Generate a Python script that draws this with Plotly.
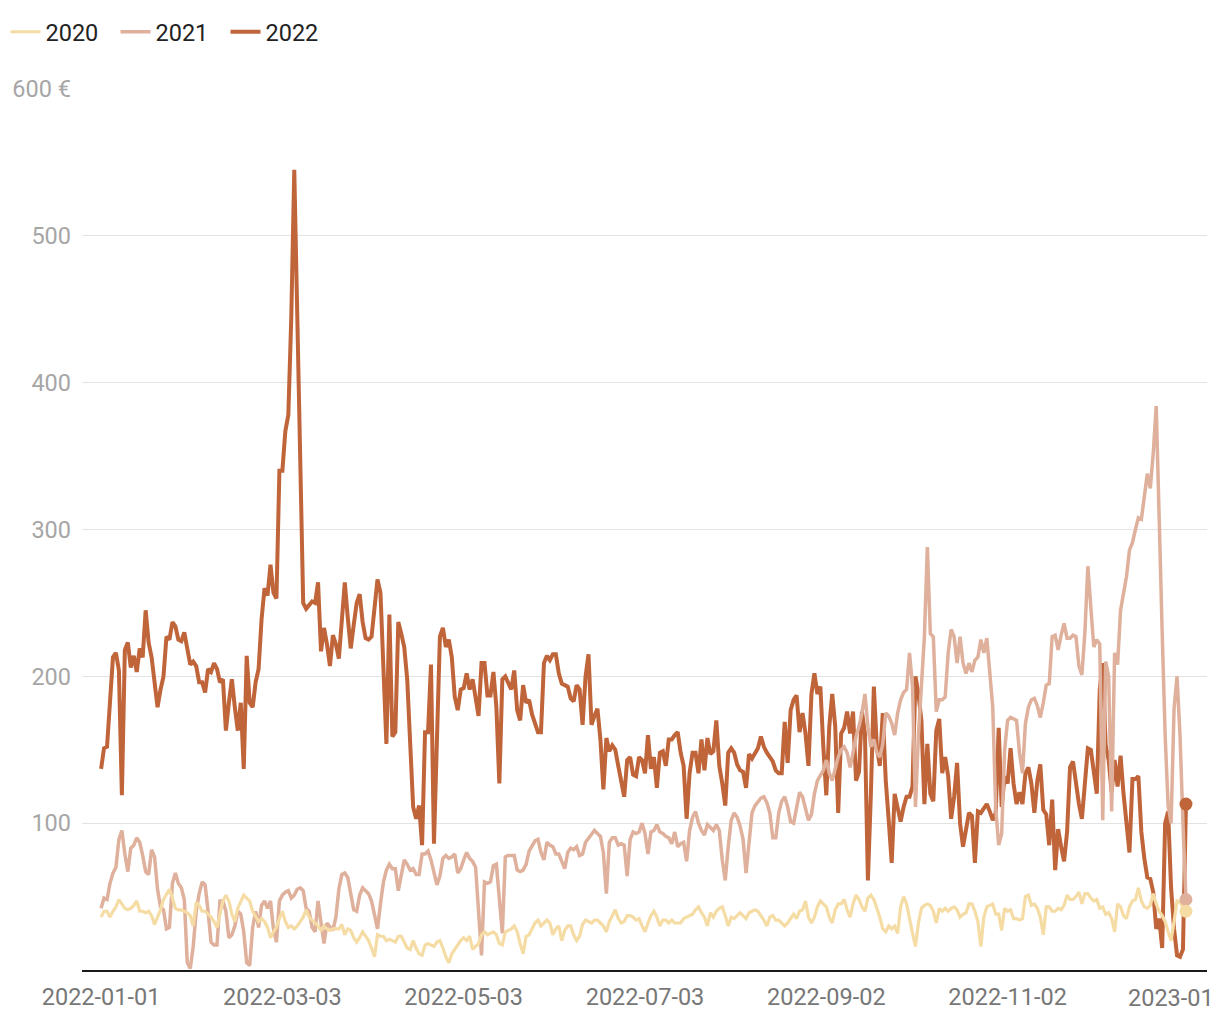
import pandas as pd
import plotly.graph_objects as go

dates = pd.date_range("2022-01-01", "2023-01-01", freq="D")

series_names = ["2020", "2021", "2022"]

values_2020 = [
    36, 40, 40, 36, 40, 43, 48, 45, 42, 41, 42, 44, 47, 40, 40, 39, 40, 37, 31, 36, 41, 48, 52, 55, 49, 42, 41, 41, 40, 39, 37, 30,
    46, 44, 40, 40, 38, 36, 33, 29, 38, 47, 51, 47, 38, 33, 42, 47, 51, 49, 47, 40, 36, 33, 35, 33, 29, 22, 26, 29, 35, 40, 33, 29, 30, 28,
    30, 33, 36, 41, 36, 34, 32, 30, 27, 30, 28, 27, 28, 28, 28, 31, 24, 28, 27, 22, 19, 22, 26, 23, 20, 15, 9, 24, 23, 23, 20, 21, 20,
    19, 23, 23, 19, 15, 14, 20, 15, 11, 10, 17, 18, 17, 16, 19, 20, 15, 9, 5, 11, 14, 17, 20, 22, 20, 23, 14, 16, 18, 24, 26, 24, 25, 26,
    24, 18, 17, 26, 27, 28, 30, 26, 18, 11, 23, 24, 28, 32, 34, 30, 32, 34, 32, 24, 28, 30, 20, 27, 30, 30, 24, 20, 23, 31, 34, 33, 32, 34,
    34, 32, 30, 26, 33, 37, 41, 35, 32, 33, 37, 37, 36, 34, 35, 30, 26, 32, 37, 40, 36, 30, 34, 34, 32, 34, 32, 32, 32, 35, 36, 37, 38,
    41, 43, 39, 36, 30, 39, 36, 40, 42, 43, 37, 30, 36, 35, 37, 39, 37, 35, 39, 40, 41, 40, 37, 34, 30, 36, 37, 34, 34, 32, 30, 32, 35, 38,
    35, 40, 41, 47, 36, 32, 36, 43, 47, 45, 43, 36, 32, 41, 45, 45, 48, 41, 36, 45, 51, 48, 43, 40, 49, 51, 48, 42, 36, 28, 26, 30, 28, 30,
    25, 43, 50, 45, 34, 25, 16, 32, 42, 44, 45, 44, 40, 32, 42, 40, 42, 40, 42, 43, 41, 36, 38, 39, 45, 45, 40, 33, 16, 36, 43, 44, 45,
    38, 38, 27, 42, 40, 41, 35, 35, 34, 35, 50, 51, 44, 45, 42, 36, 24, 43, 43, 40, 40, 42, 41, 44, 51, 48, 48, 50, 53, 45, 52, 52, 49, 47,
    48, 42, 43, 38, 39, 35, 26, 45, 43, 37, 35, 43, 47, 48, 56, 47, 43, 42, 44, 52, 45, 40, 37, 33, 26, 20, 33, 47, 46, 43, 40,
]

values_2021 = [
    42, 49, 48, 59, 66, 70, 89, 95, 79, 67, 83, 85, 90, 87, 78, 67, 65, 82, 77, 55, 43, 41, 28, 29, 59, 66, 59, 56, 48, 5, 1, 16,
    40, 52, 60, 58, 40, 19, 17, 17, 47, 47, 40, 22, 24, 30, 40, 38, 26, 5, 3, 29, 40, 29, 44, 47, 42, 47, 28, 19, 47, 51, 53, 54, 49, 51,
    55, 56, 54, 42, 40, 29, 26, 47, 32, 18, 32, 29, 27, 36, 55, 65, 66, 63, 52, 41, 40, 51, 56, 54, 52, 47, 38, 28, 45, 60, 68, 72, 69,
    69, 54, 66, 75, 72, 68, 69, 65, 65, 79, 79, 81, 75, 66, 58, 64, 76, 78, 76, 77, 79, 66, 69, 75, 80, 76, 74, 70, 40, 10, 60, 59, 60, 71,
    72, 50, 25, 77, 78, 78, 78, 68, 67, 68, 72, 81, 85, 88, 89, 80, 75, 87, 85, 84, 79, 79, 74, 69, 80, 83, 82, 84, 78, 79, 87, 90, 93, 95,
    93, 91, 80, 52, 87, 90, 90, 85, 86, 85, 64, 89, 94, 93, 94, 100, 93, 79, 94, 95, 99, 94, 93, 91, 90, 86, 94, 84, 86, 87, 74, 95, 104,
    108, 100, 95, 92, 99, 97, 95, 99, 95, 75, 61, 84, 102, 107, 104, 98, 89, 66, 89, 107, 112, 115, 117, 118, 114, 107, 90, 90, 107, 115, 118, 111, 101, 100,
    111, 121, 118, 111, 102, 106, 120, 129, 132, 136, 143, 134, 129, 138, 145, 150, 152, 148, 138, 148, 159, 166, 175, 188, 166, 152, 157, 148, 145, 154, 175, 173, 168, 160,
    175, 184, 189, 191, 216, 193, 111, 160, 190, 227, 288, 229, 227, 176, 184, 184, 186, 216, 232, 227, 209, 227, 209, 202, 209, 203, 211, 213, 225, 216, 226, 202, 179,
    110, 85, 93, 150, 170, 172, 171, 170, 148, 134, 168, 179, 184, 185, 180, 172, 182, 194, 195, 227, 228, 218, 228, 236, 226, 226, 228, 227, 207, 201, 230, 275, 247, 220,
    225, 222, 102, 210, 200, 108, 216, 208, 245, 258, 268, 286, 291, 300, 308, 307, 322, 338, 328, 352, 384, 300, 230, 160, 112, 100, 178, 200, 160, 100, 48,
]

values_2022 = [
    137, 151, 152, 179, 213, 216, 204, 119, 218, 223, 206, 214, 203, 219, 213, 245, 223, 213, 193, 179, 191, 200, 227, 225, 237, 234, 225, 224, 230, 220, 208, 210,
    207, 196, 196, 189, 205, 203, 209, 205, 196, 198, 163, 182, 198, 179, 163, 182, 137, 214, 182, 179, 196, 205, 239, 260, 255, 276, 257, 253, 340, 340, 367, 378, 445, 545,
    440, 330, 250, 246, 249, 251, 250, 264, 217, 233, 222, 207, 228, 222, 212, 235, 264, 240, 219, 235, 250, 256, 237, 226, 225, 227, 250, 266, 257, 207, 154, 242, 159,
    162, 237, 229, 220, 198, 157, 111, 103, 112, 85, 162, 162, 208, 86, 166, 227, 233, 220, 225, 213, 186, 177, 191, 192, 202, 191, 198, 184, 173, 209, 209, 187, 187, 203,
    179, 127, 198, 200, 195, 191, 204, 177, 170, 194, 182, 184, 174, 168, 162, 162, 209, 214, 211, 215, 215, 202, 195, 194, 193, 185, 183, 194, 191, 167, 200, 215, 167, 173,
    178, 157, 123, 158, 149, 153, 150, 139, 127, 118, 143, 145, 133, 132, 145, 143, 134, 160, 137, 145, 124, 148, 149, 139, 157, 157, 160, 162, 148, 139, 103, 134, 148,
    148, 134, 157, 136, 158, 147, 149, 170, 139, 127, 112, 148, 151, 148, 140, 136, 135, 124, 147, 144, 147, 151, 159, 152, 148, 145, 142, 136, 134, 134, 169, 141, 177, 184,
    187, 162, 175, 161, 139, 188, 202, 188, 193, 152, 119, 166, 188, 166, 107, 161, 165, 176, 161, 176, 129, 135, 176, 161, 61, 120, 193, 152, 139, 175, 129, 102, 73, 120,
    110, 101, 111, 118, 118, 125, 200, 188, 170, 113, 154, 120, 115, 163, 171, 134, 145, 132, 103, 118, 141, 100, 84, 95, 107, 105, 73, 108, 107, 110, 113, 108, 102,
    107, 165, 111, 132, 127, 151, 127, 113, 121, 113, 134, 138, 127, 107, 129, 140, 109, 106, 85, 116, 68, 96, 84, 74, 94, 138, 142, 127, 113, 103, 127, 151, 150, 132,
    120, 191, 209, 153, 143, 121, 143, 125, 146, 120, 99, 80, 130, 130, 132, 94, 76, 63, 62, 53, 28, 35, 15, 100, 108, 56, 28, 10, 9, 14, 113,
]

tick_dates = ["2022-01-01", "2022-03-03", "2022-05-03", "2022-07-03", "2022-09-02", "2022-11-02", "2023-01-01"]
# the last label is shown clipped by the chart edge in the original
tick_labels = ["2022-01-01", "2022-03-03", "2022-05-03", "2022-07-03", "2022-09-02", "2022-11-02", ""]
last_tick_visible = "2023-01"
y_ticks = [100, 200, 300, 400, 500, 600]
y_tick_text = ["100", "200", "300", "400", "500", "600 €"]

colors = {"2020": "#f5dca5", "2021": "#dfb09b", "2022": "#c0643a"}
widths = {"2020": 3.2, "2021": 3.5, "2022": 4}
values = {"2020": values_2020, "2021": values_2021, "2022": values_2022}

FS = 23.5

fig = go.Figure()
draw_order = ["2022", "2021", "2020"]
for name in draw_order:
    fig.add_trace(go.Scatter(
        x=dates, y=values[name], mode="lines", name=name,
        line=dict(color=colors[name], width=widths[name]),
        hoverinfo="skip",
    ))
for name in draw_order:
    fig.add_trace(go.Scatter(
        x=[dates[-1]], y=[values[name][-1]], mode="markers", showlegend=False,
        marker=dict(color=colors[name], size=13), hoverinfo="skip",
    ))

fig.add_annotation(
    x=tick_dates[-1], xref="x", y=0, yref="paper",
    text=last_tick_visible, showarrow=False,
    xanchor="left", yanchor="top", xshift=-60, yshift=-12,
    font=dict(size=FS, color="#777777", family="Roboto"),
)

fig.update_layout(
    template="none",
    width=1220, height=1020,
    margin=dict(l=82, r=13, t=89, b=50, autoexpand=False),
    paper_bgcolor="white", plot_bgcolor="white",
    font=dict(family="Roboto", size=FS, color="#222222"),
    showlegend=True,
    legend=dict(
        orientation="h", x=-0.068, xanchor="left", y=1.0647, yanchor="middle",
        traceorder="reversed", font=dict(size=FS, color="#222222"),
        entrywidth=65, entrywidthmode="pixels", bgcolor="rgba(0,0,0,0)",
    ),
    xaxis=dict(
        type="date",
        range=["2021-12-25 14:00", "2023-01-08 02:00"],
        tickvals=tick_dates, ticktext=tick_labels,
        showgrid=False, zeroline=False,
        showline=True, linecolor="#1a1a1a", linewidth=2,
        ticks="", tickfont=dict(size=FS, color="#777777"),
        ticklabelstandoff=5, automargin=False,
    ),
    yaxis=dict(
        range=[0, 600],
        tickvals=y_ticks, ticktext=y_tick_text,
        showgrid=True, gridcolor="#e3e3e3", gridwidth=1.2,
        zeroline=False, showline=False, ticks="",
        tickfont=dict(size=FS, color="#a6a6a6"),
        ticklabelstandoff=10, automargin=False,
    ),
)

fig.write_html("out.html")
